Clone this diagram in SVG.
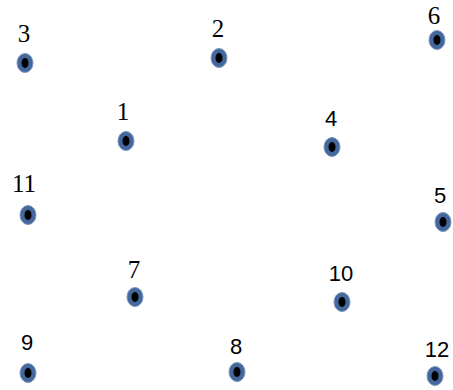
<svg xmlns="http://www.w3.org/2000/svg" width="453" height="390" viewBox="0 0 453 390">
<defs>
<style>
.o{fill:#44679c;stroke:#7d96bd;stroke-width:1}
.i{fill:#000}
.s{font-family:"Liberation Serif",serif;font-size:25px;fill:#000;text-anchor:middle}
.a{font-family:"Liberation Sans",sans-serif;font-size:22px;fill:#000;text-anchor:middle}
</style>
<g id="dot"><ellipse class="o" cx="0" cy="0" rx="8" ry="9.5"/><ellipse class="i" cx="0" cy="0" rx="3.5" ry="5"/></g>
</defs>
<rect width="453" height="390" fill="#fff"/>
<g id="connectors"></g>
<g id="n3"><text class="s" x="24" y="42">3</text><use href="#dot" x="25" y="63"/></g>
<g id="n2"><text class="s" x="218" y="37">2</text><use href="#dot" x="219" y="58"/></g>
<g id="n6"><text class="s" x="434" y="24">6</text><use href="#dot" x="437" y="40"/></g>
<g id="n1"><text class="s" x="123" y="120">1</text><use href="#dot" x="126" y="141"/></g>
<g id="n4"><text class="a" x="331" y="126">4</text><use href="#dot" x="332" y="147"/></g>
<g id="n11"><text class="s" x="24" y="192">11</text><use href="#dot" x="28" y="215"/></g>
<g id="n5"><text class="a" x="440" y="203">5</text><use href="#dot" x="443" y="222"/></g>
<g id="n7"><text class="s" x="134" y="278">7</text><use href="#dot" x="135" y="297"/></g>
<g id="n10"><text class="a" x="341" y="281">10</text><use href="#dot" x="342" y="302"/></g>
<g id="n9"><text class="a" x="27" y="350">9</text><use href="#dot" x="28" y="373"/></g>
<g id="n8"><text class="a" x="236" y="354">8</text><use href="#dot" x="237" y="372"/></g>
<g id="n12"><text class="a" x="437" y="357">12</text><use href="#dot" x="435" y="376"/></g>
</svg>
